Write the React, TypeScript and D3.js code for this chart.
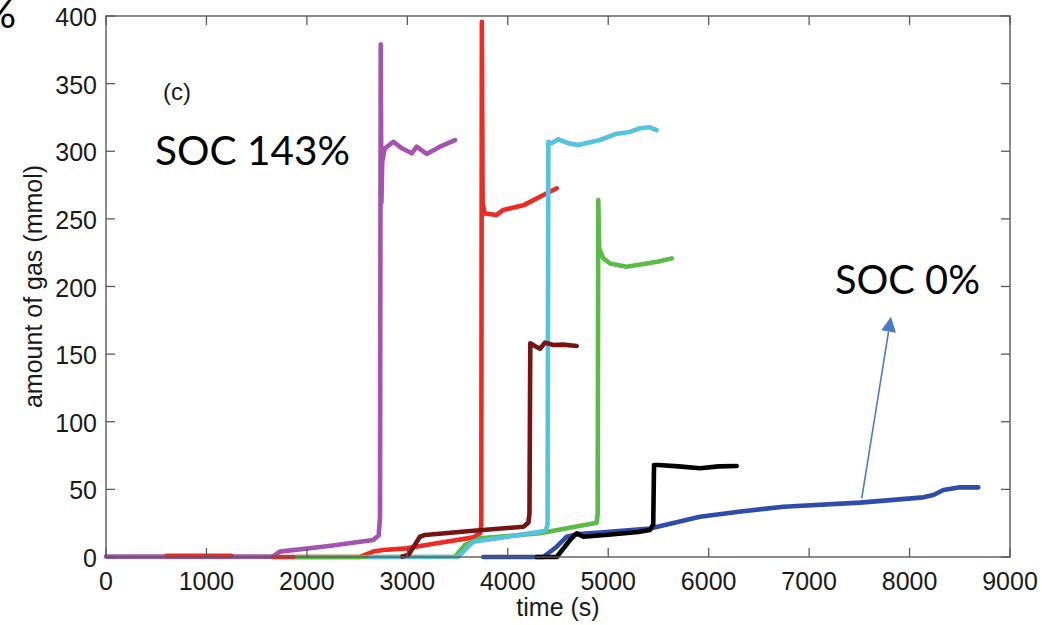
import React from "react";
import * as d3 from "d3";

// ---------- data (time in s, amount of gas in mmol) ----------
const purpleT = [0, 1000, 1660, 1730, 2200, 2660, 2715, 2728, 2735, 2742, 2750, 2775, 2861, 2950, 3044, 3093, 3193, 3325, 3475];
const purpleV = [0.3, 0.3, 0.3, 4, 8, 12.6, 16, 30, 379, 262, 292, 302, 307, 302, 298.5, 303.4, 298, 303.4, 308.3];

const redT = [600, 1250, NaN, 1660, 2529, 2661, 2761, 2994, 3325, 3657, 3724, 3736, 3742, 3750, 3770, 3890, 3956, 4155, 4321, 4487];
const redV = [0.8, 0.8, NaN, 0, 0, 4, 5.2, 6.4, 10.6, 14.5, 17.5, 24, 395.8, 262, 254, 252.9, 256.6, 260, 266.4, 272.6];

const darkRedT = [2950, 3010, 3126, 3176, 3600, 4155, 4205, 4216, 4224, 4270, 4321, 4370, 4454, 4550, 4686];
const darkRedV = [0.3, 1.5, 15, 16.3, 19, 22.4, 25.4, 32, 158, 156, 154, 158.5, 156.7, 157, 156];

const greenT = [1900, 3475, 3574, 3724, 4321, 4885, 4895, 4901, 4910, 4950, 5018, 5184, 5383, 5500, 5632];
const greenV = [0, 0.2, 8.9, 13.8, 17.5, 25.4, 32, 264, 228, 221, 217, 214.6, 217, 218.5, 220.8];

const cyanT = [2628, 3508, 3658, 4000, 4321, 4380, 4396, 4404, 4440, 4503, 4600, 4702, 4918, 5084, 5200, 5317, 5416, 5482];
const cyanV = [0, 0.2, 11.3, 15, 18.7, 20, 24, 307, 306, 308.8, 306, 304.6, 308.3, 313, 314, 317, 317.7, 315.7];

const blueT = [3756, 4354, 4487, 4587, 4700, 4918, 5416, 5914, 6300, 6744, 7507, 8137, 8237, 8337, 8503, 8685];
const blueV = [0, 0, 7.6, 15, 17, 18, 21, 29.8, 33.5, 37.2, 40.2, 44.1, 45.8, 49.5, 51.5, 51.5];

const blackT = [4287, 4487, 4620, 4686, 4752, 5000, 5300, 5416, 5448, 5456, 5500, 5700, 5914, 6100, 6279];
const blackV = [0, 0, 12.6, 17.5, 15, 16.5, 18.5, 20, 24, 68, 68, 67, 65.6, 67, 67.3];

const xTicks = [0, 1000, 2000, 3000, 4000, 5000, 6000, 7000, 8000, 9000];
const yTicks = [0, 50, 100, 150, 200, 250, 300, 350, 400];

const seriesList = [
  { name: "SOC purple", t: purpleT, v: purpleV, color: "#A453AE" },
  { name: "SOC red", t: redT, v: redV, color: "#EC2B25" },
  { name: "SOC green", t: greenT, v: greenV, color: "#5CBA46" },
  { name: "SOC cyan", t: cyanT, v: cyanV, color: "#55C3DE" },
  { name: "SOC darkred", t: darkRedT, v: darkRedV, color: "#761315" },
  { name: "SOC 0%", t: blueT, v: blueV, color: "#2F4CA9" },
  { name: "SOC black", t: blackT, v: blackV, color: "#000000" },
];

// annotation anchor points (data coords)
const arrowFrom = [7524, 43.4];
const arrowTo = [7815, 177.7];

export default function App() {
  const W = 1042, H = 625;
  const left = 106, right = 1010, top = 16, bottom = 557;
  const x = d3.scaleLinear().domain([0, 9000]).range([left, right]);
  const y = d3.scaleLinear().domain([0, 400]).range([bottom, top]);

  const line = d3
    .line<[number, number]>()
    .defined((d) => !isNaN(d[0]) && !isNaN(d[1]))
    .x((d) => x(d[0]))
    .y((d) => y(d[1]));

  const axisColor = "#5a5a5a";
  const tickLen = 9;
  const font = "'Liberation Sans', Arial, Helvetica, sans-serif";
  const annFont = "Lato, 'Open Sans', sans-serif";

  // arrow geometry
  const ax0 = x(arrowFrom[0]), ay0 = y(arrowFrom[1]);
  const ax1 = x(arrowTo[0]), ay1 = y(arrowTo[1]);
  const ang = Math.atan2(ay1 - ay0, ax1 - ax0);
  const headL = 15, headW = 7.5;
  const bx = ax1 - headL * Math.cos(ang), by = ay1 - headL * Math.sin(ang);
  const px = -Math.sin(ang), py = Math.cos(ang);
  const head = `M${ax1},${ay1} L${bx + px * headW},${by + py * headW} L${bx - px * headW},${by - py * headW} Z`;

  return (
    <svg width={W} height={H} style={{ position: "absolute", left: 0, top: 0, background: "#fff" }}>
      <rect x={0} y={0} width={W} height={H} fill="#fff" />
      <defs>
        <clipPath id="clip">
          <rect x={left - 3} y={top - 3} width={right - left + 6} height={bottom - top + 6} />
        </clipPath>
      </defs>
      {/* series */}
      <g clipPath="url(#clip)">
        {seriesList.map((s) => (
          <path
            key={s.name}
            d={line(s.t.map((t, i) => [t, s.v[i]] as [number, number])) || ""}
            fill="none"
            stroke={s.color}
            strokeWidth={4.6}
            strokeLinejoin="round"
            strokeLinecap="round"
          />
        ))}
      </g>

      {/* box */}
      <rect x={left} y={top} width={right - left} height={bottom - top} fill="none" stroke={axisColor} strokeWidth={1.4} />

      {/* x ticks */}
      {xTicks.map((t) => (
        <g key={"x" + t}>
          <line x1={x(t)} x2={x(t)} y1={bottom} y2={bottom - tickLen} stroke={axisColor} strokeWidth={1.3} />
          <line x1={x(t)} x2={x(t)} y1={top} y2={top + tickLen} stroke={axisColor} strokeWidth={1.3} />
          <text x={x(t)} y={bottom + 33} textAnchor="middle" fontFamily={font} fontSize={25} fill="#1a1a1a">
            {t}
          </text>
        </g>
      ))}
      {/* y ticks */}
      {yTicks.map((v) => (
        <g key={"y" + v}>
          <line x1={left} x2={left + tickLen} y1={y(v)} y2={y(v)} stroke={axisColor} strokeWidth={1.3} />
          <line x1={right} x2={right - tickLen} y1={y(v)} y2={y(v)} stroke={axisColor} strokeWidth={1.3} />
          <text x={97} y={y(v) + 10} textAnchor="end" fontFamily={font} fontSize={25} fill="#1a1a1a">
            {v}
          </text>
        </g>
      ))}

      {/* axis labels */}
      <text x={(left + right) / 2} y={616} textAnchor="middle" fontFamily={font} fontSize={25} fill="#1a1a1a">
        time (s)
      </text>
      <text
        transform={`translate(41.5, ${(top + bottom) / 2}) rotate(-90)`}
        textAnchor="middle"
        fontFamily={font}
        fontSize={25}
        fill="#1a1a1a"
      >
        amount of gas (mmol)
      </text>

      {/* panel label */}
      <text x={163} y={100} fontFamily={font} fontSize={24} fill="#1a1a1a">
        (c)
      </text>

      {/* annotations */}
      <text x={155} y={165} fontFamily={annFont} fontSize={41} fill="#000" textLength={195} lengthAdjust="spacingAndGlyphs">
        SOC 143%
      </text>
      <text x={835} y={294} fontFamily={annFont} fontSize={41} fill="#000" textLength={145} lengthAdjust="spacingAndGlyphs">
        SOC 0%
      </text>
      <text x={16} y={28} textAnchor="end" fontFamily={annFont} fontSize={41} fill="#000">
        %
      </text>
      <line x1={ax0} y1={ay0} x2={bx} y2={by} stroke="#4A7CC4" strokeWidth={1.6} />
      <path d={head} fill="#4A7CC4" />
    </svg>
  );
}
